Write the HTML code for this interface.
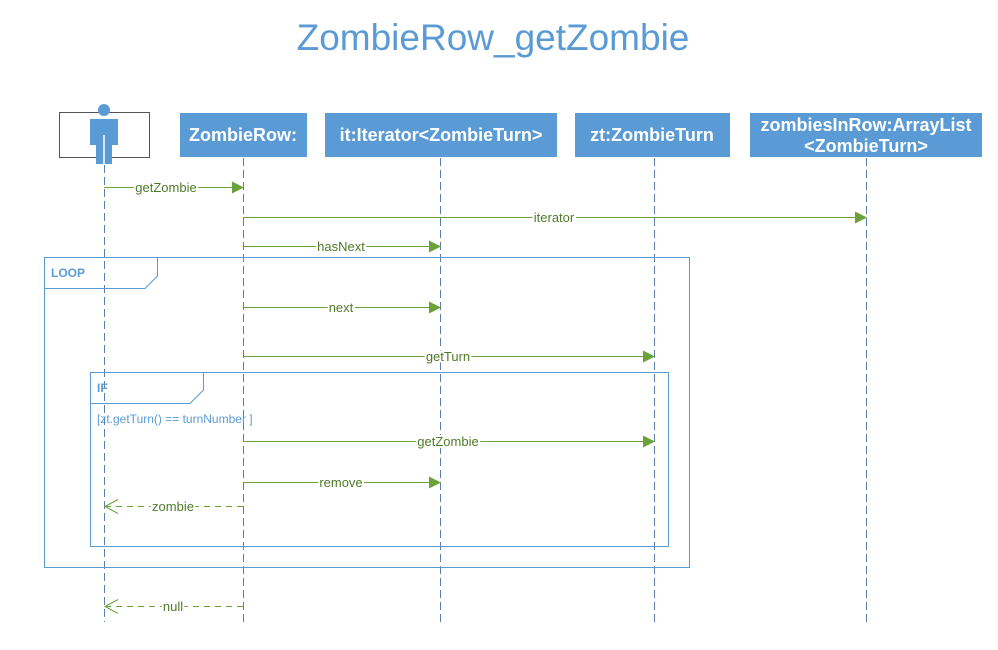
<!DOCTYPE html>
<html><head><meta charset="utf-8"><style>
body{margin:0;background:#fff;}
svg{display:block;font-family:"Liberation Sans",sans-serif;}
</style></head><body>
<svg width="998" height="650" viewBox="0 0 998 650" xmlns="http://www.w3.org/2000/svg">
<defs>
<marker id="a" markerWidth="12" markerHeight="12" refX="11" refY="6" orient="auto" markerUnits="userSpaceOnUse"><path d="M0,0 L12,6 L0,12 Z" fill="#6aa23a"/></marker>
<marker id="o" markerWidth="16" markerHeight="16" refX="14" refY="8" orient="auto" markerUnits="userSpaceOnUse"><path d="M1,1 L14,8 L1,15" fill="none" stroke="#6aa23a" stroke-width="1"/></marker>
</defs>
<text x="493" y="50" font-size="37" fill="#5b9bd5" text-anchor="middle">ZombieRow_getZombie</text>
<!-- actor -->
<rect x="59.5" y="112.5" width="90" height="45" fill="#fff" stroke="#555" stroke-width="1"/>
<circle cx="104" cy="110" r="6" fill="#5b9bd5"/>
<rect x="90" y="119" width="28" height="26" fill="#5b9bd5"/>
<rect x="96" y="135" width="16" height="29" fill="#5b9bd5"/>
<line x1="104" y1="135" x2="104" y2="164" stroke="#fff" stroke-width="1.5"/>
<!-- boxes -->
<g fill="#5b9bd5"><rect x="180" y="113" width="127" height="44"/><rect x="325" y="113" width="232" height="44"/><rect x="575" y="113" width="155" height="44"/><rect x="750" y="113" width="232" height="44"/></g>
<g fill="#fff" font-size="18" font-weight="bold" text-anchor="middle">
<text x="243" y="141">ZombieRow:</text><text x="441" y="141">it:Iterator&lt;ZombieTurn&gt;</text><text x="652" y="141">zt:ZombieTurn</text><text x="866" y="131">zombiesInRow:ArrayList</text><text x="866" y="152">&lt;ZombieTurn&gt;</text></g>
<!-- lifelines -->
<g stroke="#5b7fa8" stroke-width="1" stroke-dasharray="8,4"><line x1="104.5" y1="165" x2="104.5" y2="622"/><line x1="243.5" y1="158" x2="243.5" y2="622"/><line x1="440.5" y1="158" x2="440.5" y2="622"/><line x1="654.5" y1="158" x2="654.5" y2="622"/><line x1="866.5" y1="158" x2="866.5" y2="622"/></g>
<!-- frames -->
<g fill="none" stroke="#5b9bd5" stroke-width="1">
<rect x="44.5" y="257.5" width="645" height="310"/><path d="M44.5,288.5 H145 L157.5,276 V257.5"/>
<rect x="90.5" y="372.5" width="578" height="174"/><path d="M90.5,403.5 H190 L203.5,390 V372.5"/>
</g>
<g fill="#5b9bd5" font-size="12" font-weight="bold"><text x="51" y="277">LOOP</text><text x="97" y="392">IF</text></g>
<text x="97" y="423" font-size="12" fill="#5b9bd5">[zt.getTurn() == turnNumber ]</text>
<!-- messages -->
<g stroke="#6aa23a" stroke-width="1" fill="none">
<line x1="104" y1="187.5" x2="243" y2="187.5" marker-end="url(#a)"/>
<line x1="243" y1="217.5" x2="866" y2="217.5" marker-end="url(#a)"/>
<line x1="243" y1="246.5" x2="440" y2="246.5" marker-end="url(#a)"/>
<line x1="243" y1="307.5" x2="440" y2="307.5" marker-end="url(#a)"/>
<line x1="243" y1="356.5" x2="654" y2="356.5" marker-end="url(#a)"/>
<line x1="243" y1="441.5" x2="654" y2="441.5" marker-end="url(#a)"/>
<line x1="243" y1="482.5" x2="440" y2="482.5" marker-end="url(#a)"/>
<line x1="243" y1="506.5" x2="105" y2="506.5" stroke-dasharray="6,5" marker-end="url(#o)"/>
<line x1="243" y1="606.5" x2="105" y2="606.5" stroke-dasharray="6,5" marker-end="url(#o)"/>
</g>
<g font-size="13" fill="#4f7a2a" text-anchor="middle" stroke="#fff" stroke-width="4" paint-order="stroke">
<text x="166" y="192">getZombie</text><text x="554" y="222">iterator</text><text x="341" y="251">hasNext</text><text x="341" y="312">next</text><text x="448" y="361">getTurn</text><text x="448" y="446">getZombie</text><text x="341" y="487">remove</text><text x="173" y="511">zombie</text><text x="173" y="611">null</text></g>
</svg>
</body></html>
